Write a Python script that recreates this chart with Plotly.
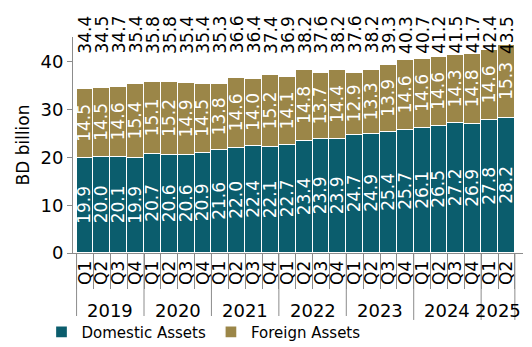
import plotly.graph_objects as go

# Quarterly assets, BD billion
years = ["2019"] * 4 + ["2020"] * 4 + ["2021"] * 4 + ["2022"] * 4 + ["2023"] * 4 + ["2024"] * 4 + ["2025"] * 2
quarters = ["Q1", "Q2", "Q3", "Q4"] * 6 + ["Q1", "Q2"]
domestic = [19.9, 20.0, 20.1, 19.9, 20.7, 20.6, 20.6, 20.9, 21.6, 22.0, 22.4, 22.1,
            22.7, 23.4, 23.9, 23.9, 24.7, 24.9, 25.4, 25.7, 26.1, 26.5, 27.2, 26.9,
            27.8, 28.2]
foreign = [14.5, 14.5, 14.6, 15.4, 15.1, 15.2, 14.9, 14.5, 13.8, 14.6, 14.0, 15.2,
           14.1, 14.8, 13.7, 14.4, 12.9, 13.3, 13.9, 14.6, 14.6, 14.6, 14.3, 14.8,
           14.6, 15.3]
totals = [34.4, 34.5, 34.7, 35.4, 35.8, 35.8, 35.4, 35.4, 35.3, 36.6, 36.4, 37.4,
          36.9, 38.2, 37.6, 38.2, 37.6, 38.2, 39.3, 40.3, 40.7, 41.2, 41.5, 41.7,
          42.4, 43.5]

TEAL = "#0b5d6d"
OLIVE = "#9b8648"
AXIS = "#8c8c8c"
FONT = "DejaVu Sans"
LBL = 17

periods = [f"{y} {q}" for y, q in zip(years, quarters)]

fig = go.Figure()
for name, vals, color in (("Domestic Assets", domestic, TEAL), ("Foreign Assets", foreign, OLIVE)):
    fig.add_trace(go.Bar(
        x=periods, y=vals, name=name,
        marker=dict(color=color, line=dict(color="white", width=1.3)),
        text=[f"{v:.1f}" for v in vals], textposition="inside",
        insidetextanchor="middle", textangle=-90, constraintext="none",
        textfont=dict(color="white", size=LBL, family=FONT),
    ))

# Totals in a row along the top of the stacks
for p, t in zip(periods, totals):
    fig.add_annotation(
        x=p, y=41.3, xref="x", yref="y", text=f"{t:.1f}",
        textangle=-90, showarrow=False, yanchor="bottom", xanchor="center",
        font=dict(color="black", size=LBL, family=FONT),
    )

# Year group labels and dividers under the quarter ticks
idx = {}
for i, y in enumerate(years):
    idx.setdefault(y, []).append(i)
for y, members in idx.items():
    fig.add_annotation(
        x=sum(members) / len(members), y=-0.265, xref="x", yref="paper",
        text=y, showarrow=False, yanchor="middle",
        font=dict(color="black", size=18, family=FONT),
    )
    fig.add_shape(type="line", xref="x", yref="paper",
                  x0=members[0] - 0.5, x1=members[0] - 0.5, y0=0, y1=-0.31,
                  line=dict(color=AXIS, width=1))
fig.add_shape(type="line", xref="x", yref="paper",
              x0=len(years) - 0.5, x1=len(years) - 0.5, y0=0, y1=-0.31,
              line=dict(color=AXIS, width=1))

fig.update_layout(
    width=532, height=347,
    margin=dict(l=73, r=9, t=37, b=94, autoexpand=False),
    barmode="stack", bargap=0,
    plot_bgcolor="white", paper_bgcolor="white",
    font=dict(family=FONT, size=16, color="black"),
    uniformtext=dict(minsize=LBL, mode="show"),
    legend=dict(orientation="h", x=-0.07, y=-0.29, xanchor="left", yanchor="top",
                font=dict(size=15, family=FONT), traceorder="normal",
                itemwidth=30, tracegroupgap=0),
)
fig.update_yaxes(
    range=[0, 45.2], tickvals=[0, 10, 20, 30, 40], showgrid=False,
    showline=True, linecolor=AXIS, linewidth=1,
    ticks="outside", ticklen=5, tickcolor=AXIS, automargin=False,
    title=dict(text="BD billion", font=dict(size=17), standoff=6),
    tickfont=dict(size=18), zeroline=False,
)
fig.update_xaxes(
    type="category", showgrid=False, automargin=False,
    showline=True, linecolor=AXIS, linewidth=1,
    ticks="outside", ticklen=35, tickcolor=AXIS, tickson="boundaries",
    tickmode="array", tickvals=periods, ticktext=quarters,
    tickangle=-90, tickfont=dict(size=17),
)

fig.write_html("out.html")
